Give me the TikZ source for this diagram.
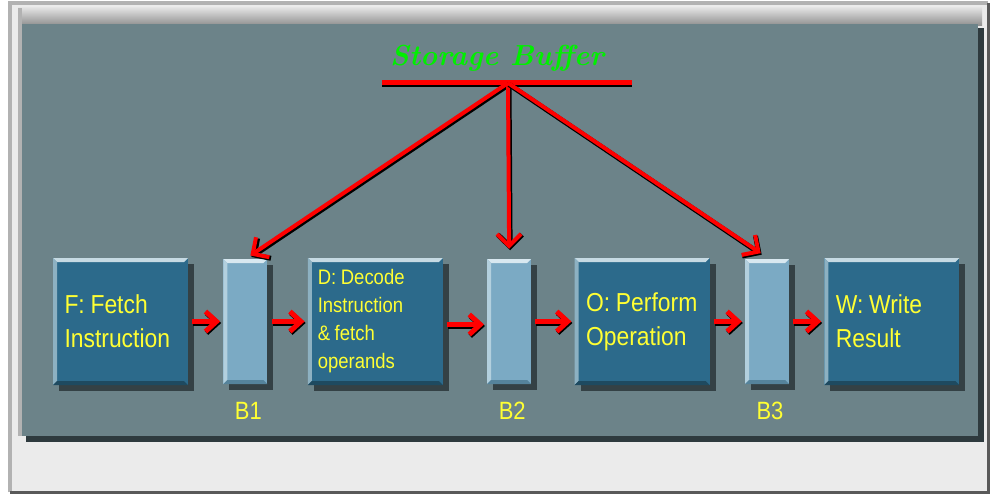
\documentclass[tikz,border=0pt]{standalone}
\usepackage{fontspec}
\newfontfamily\stagefont[FakeStretch=0.88]{Liberation Sans}
\usetikzlibrary{positioning, arrows.meta, shadows, calc}

\definecolor{framegray}{HTML}{EBEBEB}
\definecolor{panelgray}{HTML}{6C8389}
\definecolor{paneldark}{HTML}{2E3A3E}
\definecolor{boxblue}{HTML}{2C6A8B}
\definecolor{boxtop}{HTML}{C6DAE3}
\definecolor{boxleft}{HTML}{8DB1C2}
\definecolor{boxbottom}{HTML}{1E4A60}
\definecolor{buffill}{HTML}{7BAAC4}
\definecolor{buftop}{HTML}{D8E8F0}
\definecolor{bufleft}{HTML}{B3D0DE}
\definecolor{bufbottom}{HTML}{55839B}
\definecolor{textyellow}{HTML}{FFFF33}
\definecolor{storegreen}{HTML}{00F000}

\hyphenpenalty=10000
\newcommand{\colgap}{\hspace{0.22em}}

% bevelled edges of a button-like node
\newcommand{\bevelfill}[3]{%
  \coordinate (nw) at (path picture bounding box.north west);
  \coordinate (ne) at (path picture bounding box.north east);
  \coordinate (sw) at (path picture bounding box.south west);
  \coordinate (se) at (path picture bounding box.south east);
  \fill[#1] (nw) -- (ne) -- ($(ne)+(-4pt,-4pt)$) -- ($(nw)+(4pt,-4pt)$) -- cycle;
  \fill[#2] (nw) -- ($(nw)+(4pt,-4pt)$) -- ($(sw)+(4pt,4pt)$) -- (sw) -- cycle;
  \fill[#3] (sw) -- ($(sw)+(4pt,4pt)$) -- ($(se)+(-4pt,4pt)$) -- (se) -- cycle;
}

\begin{document}
\begin{tikzpicture}[x=1pt, y=-1pt,
  stage/.style={fill=boxblue, minimum width=135pt, minimum height=127pt, inner sep=0pt,
    text=textyellow, font=\stagefont\fontsize{26}{34}\selectfont,
    align=left, text width=112pt,
    drop shadow={shadow xshift=6pt, shadow yshift=-6pt, fill=paneldark, opacity=0.9},
    path picture={\bevelfill{boxtop}{boxleft}{boxbottom}}},
  bufferbar/.style={fill=buffill, minimum width=44pt, minimum height=125pt, inner sep=0pt,
    drop shadow={shadow xshift=6pt, shadow yshift=-6pt, fill=paneldark, opacity=0.9},
    path picture={\bevelfill{buftop}{bufleft}{bufbottom}}},
  buflabel/.style={text=textyellow, font=\stagefont\fontsize{25}{25}\selectfont,
    inner sep=2pt, label distance=16pt, xshift=3pt},
  flow/.style={-{Straight Barb[length=11pt,width=20pt]}, draw=red, line width=5pt,
    shorten <=4pt, shorten >=3pt,
    preaction={draw=black, line width=5pt, transform canvas={shift={(1pt,-1.5pt)}}}},
  feed/.style={flow, line width=4pt, shorten <=0pt,
    -{Straight Barb[length=12pt,width=24pt]}},
  store/.style={text=storegreen, font=\bfseries\itshape\fontsize{29}{32}\selectfont}
]
  \useasboundingbox (0,0) rectangle (992,497);
  \fill[white] (0,0) rectangle (992,497);

  % outer frame and panel
  \fill[framegray] (10,3) rectangle (988,492);
  \draw[black!30, line width=4pt] (10,492) -- (10,3) -- (988,3);
  \draw[black!65, line width=3pt] (10,492) -- (988,492) -- (988,3);
  \shade[top color=black!12, bottom color=black!45] (18,8) rectangle (982,26);
  \fill[black!30] (18,8) rectangle (22,436);
  \fill[paneldark] (26,28) rectangle (984,442);
  \fill[panelgray] (22,24) rectangle (978,436);

  % pipeline stages and buffers
  \node[stage] (fetch) at (120.5,321.5) {F:\colgap Fetch\\Instruction};
  \node[bufferbar, right=35pt of fetch, label={[buflabel]below:B1}] (buf1) {};
  \node[stage, right=40pt of buf1, font=\stagefont\fontsize{21}{28}\selectfont,
    text width=115pt] (decode) {D:\colgap Decode\\Instruction\\\&\colgap fetch\\operands};
  \node[bufferbar, right=44pt of decode, label={[buflabel]below:B2}] (buf2) {};
  \node[stage, right=43pt of buf2] (operate) {O:\colgap Perform\\Operation};
  \node[bufferbar, right=35pt of operate, label={[buflabel]below:B3}] (buf3) {};
  \node[stage, right=35pt of buf3] (write) {W:\colgap Write\\Result};

  % storage buffer bus
  \node[store] (store) at (497,58) {Storage Buffer};
  \coordinate (busl) at (382,83);
  \coordinate (busr) at (632,83);
  \coordinate (hub) at (508,83);
  \draw[black, line width=3pt] ($(busl)+(0pt,-3pt)$) -- ($(busr)+(0pt,-3pt)$);
  \draw[red, line width=5pt] (busl) -- (busr);

  \draw[feed, shorten >=6pt] (hub) -- (buf1.north);
  \draw[feed, shorten >=10pt] (hub) -- (buf2.north);
  \draw[feed, shorten >=10pt] (hub) -- ($(buf3.north)+(2pt,0pt)$);

  \draw[flow] (fetch) -- (buf1);
  \draw[flow] (buf1) -- (decode);
  \draw[flow] ($(decode.east)+(0pt,-3pt)$) -- ($(buf2.west)+(0pt,-3pt)$);
  \draw[flow] (buf2) -- (operate);
  \draw[flow] (operate) -- (buf3);
  \draw[flow] (buf3) -- (write);
\end{tikzpicture}
\end{document}
